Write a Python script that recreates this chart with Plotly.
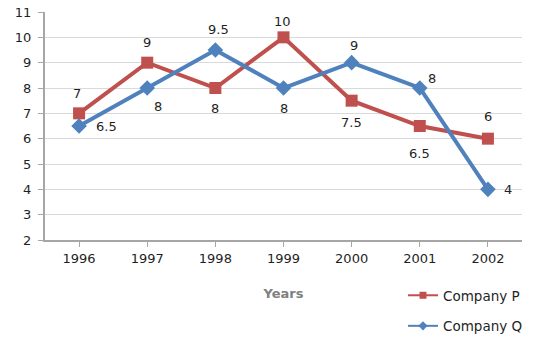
import plotly.graph_objects as go

years = ["1996", "1997", "1998", "1999", "2000", "2001", "2002"]
company_p = [7, 9, 8, 10, 7.5, 6.5, 6]
company_q = [6.5, 8, 9.5, 8, 9, 8, 4]

# label offsets (px) around each point: (dx, dy) with dy positive = upward
p_offsets = [(-2, 20), (0, 20), (0, -20), (-1, 16), (0, -22), (0, -27), (0, 22)]
q_offsets = [(27, 0), (11, -18), (3, 21), (0, -20), (2, 17), (12, 10), (20, 0)]

RED = "#C0504D"
BLUE = "#4F81BD"
FONT = "DejaVu Sans"
TEXT = "#1F1F1F"

series = [
    ("Company P", company_p, RED, "square", 12, 7),
    ("Company Q", company_q, BLUE, "diamond", 12, 7),
]

fig = go.Figure()
for name, vals, color, symbol, msize, legend_msize in series:
    fig.add_trace(go.Scatter(
        x=years, y=vals, name=name, mode="lines+markers",
        line=dict(color=color, width=4),
        marker=dict(symbol=symbol, size=msize, color=color),
        showlegend=False, legendgroup=name,
    ))
    # slimmer legend key for the same series
    fig.add_trace(go.Scatter(
        x=[None], y=[None], name=name, mode="lines+markers",
        line=dict(color=color, width=2),
        marker=dict(symbol=symbol, size=legend_msize, color=color),
        showlegend=True, legendgroup=name,
    ))

# value labels, placed by category index on the x axis
annotations = []
for vals, offs in ((company_p, p_offsets), (company_q, q_offsets)):
    for i, (v, (dx, dy)) in enumerate(zip(vals, offs)):
        annotations.append(dict(
            x=i, y=v, xref="x", yref="y", text=f"{v:g}", showarrow=False,
            xshift=dx, yshift=dy,
            font=dict(family=FONT, size=13, color=TEXT),
        ))

fig.update_layout(
    width=557, height=337,
    margin=dict(l=45, r=35, t=12, b=97, autoexpand=False),
    paper_bgcolor="white", plot_bgcolor="white",
    font=dict(family=FONT, size=13, color=TEXT),
    annotations=annotations,
    showlegend=True,
    legend=dict(
        xref="container", yref="container",
        x=403 / 557, y=1 - 280 / 337, xanchor="left", yanchor="top",
        traceorder="grouped", tracegroupgap=10,
        font=dict(family=FONT, size=13.5, color=TEXT),
        bgcolor="rgba(0,0,0,0)",
    ),
    xaxis=dict(
        type="category", range=[-0.5, 6.5], automargin=False,
        showgrid=False, showline=True, linecolor="#A6A6A6", linewidth=2,
        ticks="outside", ticklen=5, tickcolor="#A6A6A6", tickwidth=1,
        tickfont=dict(family=FONT, size=13, color=TEXT),
        title=dict(text="<b>Years</b>", standoff=24,
                   font=dict(family=FONT, size=13, color="#808080")),
    ),
    yaxis=dict(
        range=[2, 11], dtick=1, automargin=False,
        showgrid=True, gridcolor="#D9D9D9", gridwidth=1,
        showline=True, linecolor="#A6A6A6", linewidth=2,
        ticks="outside", ticklen=5, tickcolor="#A6A6A6",
        ticklabelstandoff=4,
        tickfont=dict(family=FONT, size=13, color=TEXT),
        zeroline=False,
    ),
)

fig.write_html("out.html")
